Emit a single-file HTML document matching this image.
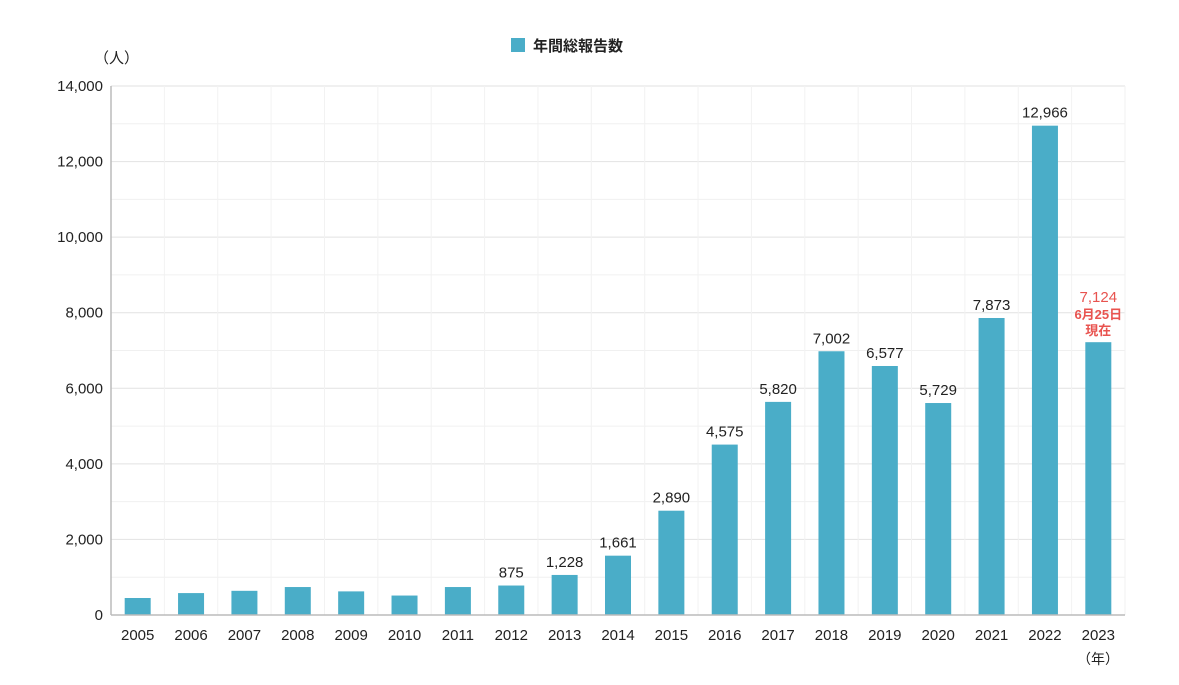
<!DOCTYPE html>
<html><head><meta charset="utf-8">
<style>
body{margin:0;background:#fff;width:1179px;height:680px;overflow:hidden}
svg{font-family:"Liberation Sans","Noto Sans CJK JP",sans-serif}
</style></head>
<body>
<svg id="chart" width="1179" height="680" viewBox="0 0 1179 680">
<g id="grid"></g>
<g id="bars"></g>
<g id="labels"></g>
<g id="axes"></g>
<g>
<rect x="511" y="38" width="14" height="14" fill="#4aadc8"/>
<text x="533" y="51" font-size="15" font-weight="bold" fill="#222">年間総報告数</text>
</g>
<text x="94" y="63" font-size="15" fill="#222">（人）</text>
<text x="1098" y="664" font-size="14" fill="#222" text-anchor="middle">（年）</text>
</svg>
<script>
const categories=["2005","2006","2007","2008","2009","2010","2011","2012","2013","2014","2015","2016","2017","2018","2019","2020","2021","2022","2023"];
const values=[450,580,640,740,625,515,740,780,1060,1570,2760,4510,5640,6980,6590,5610,7860,12950,7220];
const printed=["","","","","","","","875","1,228","1,661","2,890","4,575","5,820","7,002","6,577","5,729","7,873","12,966","7,124"];
const yTicks=[0,2000,4000,6000,8000,10000,12000,14000];
const yTickLabels=["0","2,000","4,000","6,000","8,000","10,000","12,000","14,000"];
const NS="http://www.w3.org/2000/svg";
const x0=111,x1=1125,y0=615,y1=86,yMax=14000;
const step=(x1-x0)/categories.length;
function xc(i){return x0+step*(i+0.5);}
function ys(v){return y0-(v/yMax)*(y0-y1);}
function mk(tag,attrs,parent){const e=document.createElementNS(NS,tag);for(const k in attrs)e.setAttribute(k,attrs[k]);parent.appendChild(e);return e;}
const grid=document.getElementById('grid'),bars=document.getElementById('bars'),labels=document.getElementById('labels'),axes=document.getElementById('axes');
for(let v=0;v<=yMax;v+=1000){
  const l=mk('line',{x1:x0,x2:x1,y1:ys(v),y2:ys(v),stroke:v%2000===0?'#e2e2e2':'#f0f0f0','stroke-width':1},grid);
  
  
}
for(let i=0;i<=categories.length;i++){
  const l=mk('line',{x1:x0+step*i,x2:x0+step*i,y1:y1,y2:y0,stroke:'#f2f2f2','stroke-width':1},grid);
  
  
}
categories.forEach((c,i)=>{
  const bw=26,h=y0-ys(values[i]);
  const r=mk('rect',{x:xc(i)-bw/2,y:ys(values[i]),width:bw,height:h,fill:'#4aadc8'},bars);
  
  
  const t=mk('text',{x:xc(i),y:640,'font-size':15,fill:'#222','text-anchor':'middle'},axes);
  t.textContent=c;
  
  
  if(printed[i]){
    const last=i===categories.length-1;
    const lt=mk('text',{x:xc(i),y:last?ys(values[i])-40:ys(values[i])-8,'font-size':15,fill:last?'#e8534f':'#222','text-anchor':'middle'},labels);
    lt.textContent=printed[i];
    
    
    if(last){
      const a=mk('text',{x:xc(i),y:ys(values[i])-23,'font-size':13,'font-weight':'bold',fill:'#e8534f','text-anchor':'middle'},labels);
      a.textContent='6月25日';
      
      
      const b=mk('text',{x:xc(i),y:ys(values[i])-7,'font-size':13,'font-weight':'bold',fill:'#e8534f','text-anchor':'middle'},labels);
      b.textContent='現在';
      
      
    }
  }
});
yTicks.forEach((v,i)=>{
  const t=mk('text',{x:x0-8,y:ys(v)+5,'font-size':15,fill:'#222','text-anchor':'end'},axes);
  t.textContent=yTickLabels[i];
  
  
});
const ya=mk('line',{x1:x0,x2:x0,y1:y1,y2:y0,stroke:'#bbb','stroke-width':1.5},axes);


const xa=mk('line',{x1:x0,x2:x1,y1:y0,y2:y0,stroke:'#bbb','stroke-width':1.5},axes);


</script>
</body></html>
